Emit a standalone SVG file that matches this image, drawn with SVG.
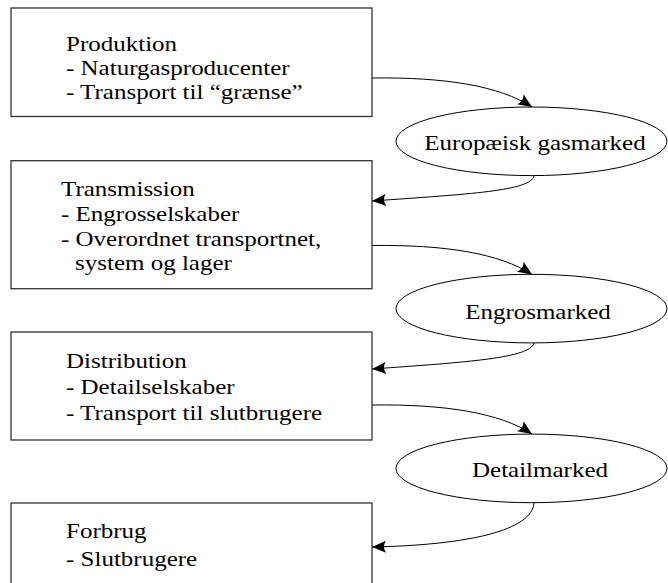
<svg xmlns="http://www.w3.org/2000/svg" width="668" height="583" viewBox="0 0 668 583">
<style>
  .box { fill: #ffffff; stroke: #333333; stroke-width: 1.3; }
  .ell { fill: #ffffff; stroke: #000000; stroke-width: 1; }
  .t { font-family: "Liberation Serif", "Times New Roman", serif; font-size: 21px; fill: #000000; }
  .m { text-anchor: middle; }
  .c { fill: none; stroke: #000000; stroke-width: 1; marker-end: url(#ah); }
</style>
<defs>
  <marker id="ah" markerUnits="userSpaceOnUse" markerWidth="16" markerHeight="14" viewBox="-15 -7 16 14" refX="0" refY="0" orient="auto">
    <path d="M0,0 L-14,-6 Q-10,0 -14,6 Z" fill="#000000"/>
  </marker>
</defs>
<rect width="668" height="583" fill="#ffffff"/>

<g id="produktion">
  <rect class="box" x="11" y="8" width="361" height="108.5"/>
  <text class="t" transform="matrix(1.19 0 0 1 66 51)"><tspan x="0" y="0">Produktion</tspan><tspan x="0" y="24">- Naturgasproducenter</tspan><tspan x="0" y="48">- Transport til “grænse”</tspan></text>
</g>

<g id="europaeisk-gasmarked">
  <ellipse class="ell" cx="531.5" cy="141.3" rx="135.5" ry="34.3"/>
  <text class="t m" transform="matrix(1.19 0 0 1 535 150)" x="0" y="0">Europæisk gasmarked</text>
</g>

<g id="transmission">
  <rect class="box" x="11" y="160.7" width="361" height="128"/>
  <text class="t" transform="matrix(1.19 0 0 1 61 196)"><tspan x="0" y="0">Transmission</tspan><tspan x="0" y="25">- Engrosselskaber</tspan><tspan x="0" y="50">- Overordnet transportnet,</tspan><tspan x="11.8" y="74">system og lager</tspan></text>
</g>

<g id="engrosmarked">
  <ellipse class="ell" cx="531.5" cy="308.6" rx="135.5" ry="34.3"/>
  <text class="t m" transform="matrix(1.19 0 0 1 538 319)" x="0" y="0">Engrosmarked</text>
</g>

<g id="distribution">
  <rect class="box" x="11" y="332" width="361" height="108"/>
  <text class="t" transform="matrix(1.19 0 0 1 66 368)"><tspan x="0" y="0">Distribution</tspan><tspan x="0" y="26">- Detailselskaber</tspan><tspan x="0" y="52">- Transport til slutbrugere</tspan></text>
</g>

<g id="detailmarked">
  <ellipse class="ell" cx="531.5" cy="468.4" rx="135.5" ry="34.3"/>
  <text class="t m" transform="matrix(1.19 0 0 1 540 477)" x="0" y="0">Detailmarked</text>
</g>

<g id="forbrug">
  <rect class="box" x="11" y="503" width="361" height="108"/>
  <text class="t" transform="matrix(1.19 0 0 1 66 538)"><tspan x="0" y="0">Forbrug</tspan><tspan x="0" y="28">- Slutbrugere</tspan></text>
</g>

<g id="connectors">
  <path class="c" d="M372,78 C445,77 500,86 532,107"/>
  <path class="c" d="M534,176 C530,191 470,194 372,201"/>
  <path class="c" d="M372,245.5 C445,244.5 500,253.5 532,274.5"/>
  <path class="c" d="M534,343 C530,358 470,362 372,369"/>
  <path class="c" d="M372,405 C445,404 500,413 532,434"/>
  <path class="c" d="M534,503 C532,530 470,545 372,547"/>
</g>
</svg>
